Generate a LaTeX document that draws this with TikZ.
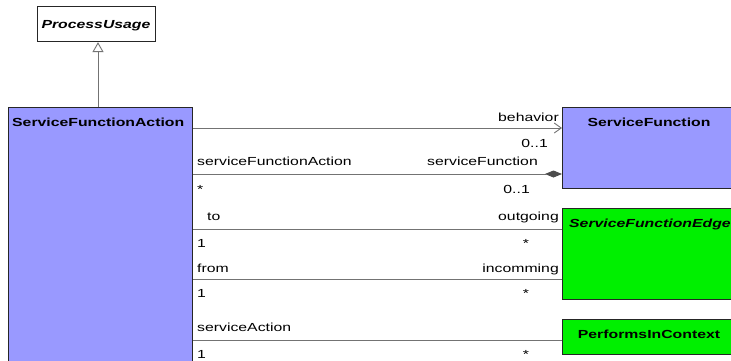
\documentclass[tikz,border=0pt]{standalone}
\usepackage{fontspec}
\setmainfont[FakeStretch=1.35]{Liberation Sans}
\usetikzlibrary{arrows.meta}
\definecolor{umlblue}{RGB}{153,153,255}
\definecolor{umlgreen}{RGB}{0,240,0}
\definecolor{lgrey}{RGB}{115,115,115}
\begin{document}
\begin{tikzpicture}[x=1pt,y=-1pt, font=\fontsize{11.7}{14}\selectfont,
  cls/.style={draw=black!85, line width=1.1pt, anchor=north west, inner sep=0pt},
  ttl/.style={inner sep=0pt, font=\fontsize{11.7}{14}\selectfont\bfseries},
  lbl/.style={inner sep=0pt, anchor=base west},
  lblr/.style={inner sep=0pt, anchor=base east},
  lblc/.style={inner sep=0pt, anchor=base},
  conn/.style={draw=lgrey, line width=0.9pt}]
\useasboundingbox (0,0) rectangle (731,360);
\clip (0,0) rectangle (731,360);
% classes
\node[cls, fill=white, minimum width=118pt, minimum height=35pt] (pu) at (37,6) {};
\node[ttl, font=\fontsize{11.7}{14}\selectfont\bfseries\itshape, anchor=base] (put) at (96,28) {ProcessUsage};
\node[cls, fill=umlblue, minimum width=184pt, minimum height=270pt] (sfa) at (8,107) {};
\node[ttl, anchor=base west] (sfat) at (12,126) {ServiceFunctionAction};
\node[cls, fill=umlblue, minimum width=180pt, minimum height=81pt] (sf) at (562,107) {};
\node[ttl, anchor=base] (sft) at (649,126) {ServiceFunction};
\node[cls, fill=umlgreen, minimum width=180pt, minimum height=91pt] (sfe) at (562,208) {};
\node[ttl, font=\fontsize{11.7}{14}\selectfont\bfseries\itshape, anchor=base west] (sfet) at (569,227) {ServiceFunctionEdge};
\node[cls, fill=umlgreen, minimum width=180pt, minimum height=35pt] (pic) at (562,319) {};
\node[ttl, anchor=base] (pict) at (649,338) {PerformsInContext};
% generalization
\coordinate (gx) at (98,0);
\draw[conn, -{Triangle[open,length=10pt,width=11pt]}] (gx |- sfa.north) -- (gx |- pu.south);
% connectors
\coordinate (y1) at (0,128);
\coordinate (y2) at (0,174);
\coordinate (y3) at (0,229);
\coordinate (y4) at (0,279);
\coordinate (y5) at (0,340);
\draw[conn, -{Straight Barb[length=7pt,width=10pt]}] (sfa.east |- y1) -- (sf.west |- y1);
\draw[conn, -{Diamond[length=17pt,width=7pt,fill=black!70,color=black!70]}] (sfa.east |- y2) -- (sf.west |- y2);
\draw[conn] (sfa.east |- y3) -- (sfe.west |- y3);
\draw[conn] (sfa.east |- y4) -- (sfe.west |- y4);
\draw[conn] (sfa.east |- y5) -- (pic.west |- y5);
% labels
\node[lblr] (l1) at (559,121) {behavior};
\node[lblr] (l2) at (548,147) {0..1};
\node[lbl] (l3) at (197,165) {serviceFunctionAction};
\node[lblr] (l4) at (538,165) {serviceFunction};
\node[lbl] (l5) at (197,193) {*};
\node[lblr] (l6) at (530,193) {0..1};
\node[lbl] (l7) at (207,220) {to};
\node[lblr] (l8) at (559,220) {outgoing};
\node[lbl] (l9) at (197,247) {1};
\node[lblc] (l10) at (526,247) {*};
\node[lbl] (l11) at (197,272) {from};
\node[lblr] (l12) at (559,272) {incomming};
\node[lbl] (l13) at (197,297) {1};
\node[lblc] (l14) at (526,297) {*};
\node[lbl] (l15) at (197,331) {serviceAction};
\node[lbl] (l16) at (197,358) {1};
\node[lblc] (l17) at (526,358) {*};
\end{tikzpicture}
\end{document}
